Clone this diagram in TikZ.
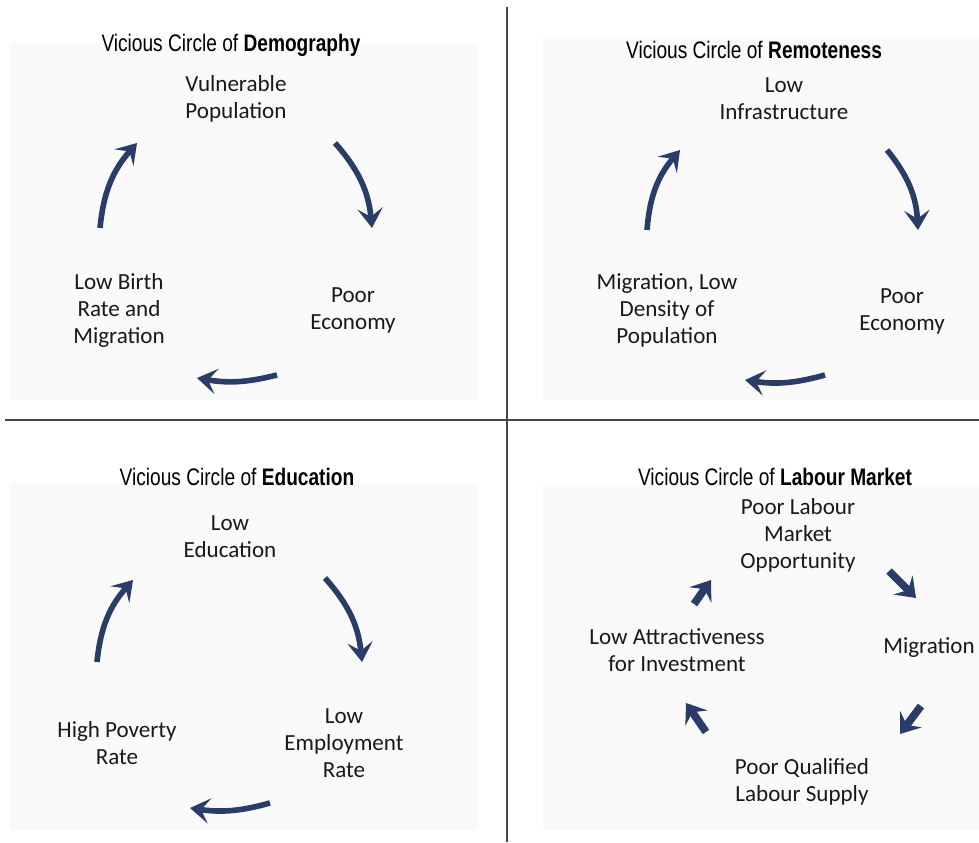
\documentclass[tikz,border=0pt]{standalone}
\usepackage{fontspec}
\newfontfamily\labelfont{Carlito}
\newfontfamily\titlefont[FakeStretch=0.8]{Liberation Sans}
\usepackage{tikz}
\usetikzlibrary{positioning,arrows.meta}

\definecolor{arrowblue}{RGB}{42,61,104}
\definecolor{panelgray}{RGB}{250,250,250}
\definecolor{rulegray}{RGB}{70,70,70}

\begin{document}
\begin{tikzpicture}[x=0.025cm,y=0.025cm,
    heading/.style={font=\titlefont\fontsize{17}{20}\selectfont},
    circtext/.style={font=\labelfont\fontsize{16.4}{19.2}\selectfont,align=center,text=black!90},
    vcarrow/.style={arrowblue,line width=4pt,-{Stealth[length=14pt,width=18pt,inset=6pt]}},
    shortarrow/.style={arrowblue,line width=5.5pt,-{Stealth[length=13pt,width=19pt,inset=5pt]}},
    panel/.style={fill=panelgray,draw=none}]
      \useasboundingbox (0,0) rectangle (979,842);
      % panels
      \fill[panel] (10,442) rectangle (477,799);
      \fill[panel] (543,442) rectangle (979,805);
      \fill[panel] (10,12) rectangle (477,359);
      \fill[panel] (543,12) rectangle (979,357);
      % dividing lines
      \coordinate (vtop) at (507,835);
      \coordinate (vbot) at (507,0);
      \coordinate (hleft) at (5,422);
      \coordinate (hright) at (979,422);
      \draw[rulegray,line width=1.5pt] (vtop) -- (vbot);
      \draw[rulegray,line width=1.5pt] (hleft) -- (hright);

      % demography
      \node[heading] (demtitle) at (231,797) {Vicious Circle of \textbf{Demography}};
      \node[circtext] (vulpop) at (236,743) {Vulnerable\\Population};
      \node[circtext] (demeco) at (353,532) {Poor\\Economy};
      \node[circtext] (birth) at (119,532) {Low Birth\\Rate and\\Migration};
      \coordinate (dem1s) at (335,699);
      \coordinate (dem1e) at (372,614);
      \coordinate (dem2s) at (277,467);
      \coordinate (dem2e) at (197,464);
      \coordinate (dem3s) at (100,614);
      \coordinate (dem3e) at (137,699);
      \draw[vcarrow] (dem1s) to[bend left=18] (dem1e);
      \draw[vcarrow] (dem2s) to[bend left=12] (dem2e);
      \draw[vcarrow] (dem3s) to[bend left=18] (dem3e);

      % remoteness
      \node[heading] (remtitle) at (754,792) {Vicious Circle of \textbf{Remoteness}};
      \node[circtext] (infra) at (784,743) {Low\\Infrastructure};
      \node[circtext] (remeco) at (902,531) {Poor\\Economy};
      \node[circtext] (density) at (667,532) {Migration, Low\\Density of\\Population};
      \coordinate (rem1s) at (887,692);
      \coordinate (rem1e) at (918,612);
      \coordinate (rem2s) at (825,467);
      \coordinate (rem2e) at (745,462);
      \coordinate (rem3s) at (647,612);
      \coordinate (rem3e) at (680,692);
      \draw[vcarrow] (rem1s) to[bend left=18] (rem1e);
      \draw[vcarrow] (rem2s) to[bend left=12] (rem2e);
      \draw[vcarrow] (rem3s) to[bend left=18] (rem3e);

      % education
      \node[heading] (edutitle) at (237,365) {Vicious Circle of \textbf{Education}};
      \node[circtext] (lowedu) at (230,305) {Low\\Education};
      \node[circtext] (employ) at (344,99) {Low\\Employment\\Rate};
      \node[circtext] (poverty) at (117,99) {High Poverty\\Rate};
      \coordinate (edu1s) at (325,264);
      \coordinate (edu1e) at (362,180);
      \coordinate (edu2s) at (270,39);
      \coordinate (edu2e) at (190,34);
      \coordinate (edu3s) at (97,180);
      \coordinate (edu3e) at (133,262);
      \draw[vcarrow] (edu1s) to[bend left=18] (edu1e);
      \draw[vcarrow] (edu2s) to[bend left=12] (edu2e);
      \draw[vcarrow] (edu3s) to[bend left=18] (edu3e);

      % labour market
      \node[heading] (labtitle) at (775,365) {Vicious Circle of \textbf{Labour Market}};
      \node[circtext] (opport) at (798,307) {Poor Labour\\Market\\Opportunity};
      \node[circtext] (migr) at (929,194) {Migration};
      \node[circtext] (supply) at (802,60) {Poor Qualified\\Labour Supply};
      \node[circtext] (invest) at (677,192) {Low Attractiveness\\for Investment};
      \coordinate (lab1s) at (889,271);
      \coordinate (lab1e) at (916,244);
      \coordinate (lab2s) at (921,136);
      \coordinate (lab2e) at (900,108);
      \coordinate (lab3s) at (706,110);
      \coordinate (lab3e) at (686,139);
      \coordinate (lab4s) at (694,238);
      \coordinate (lab4e) at (711,262);
      \draw[shortarrow] (lab1s) -- (lab1e);
      \draw[shortarrow] (lab2s) -- (lab2e);
      \draw[shortarrow] (lab3s) -- (lab3e);
      \draw[shortarrow] (lab4s) -- (lab4e);
\end{tikzpicture}
\end{document}
